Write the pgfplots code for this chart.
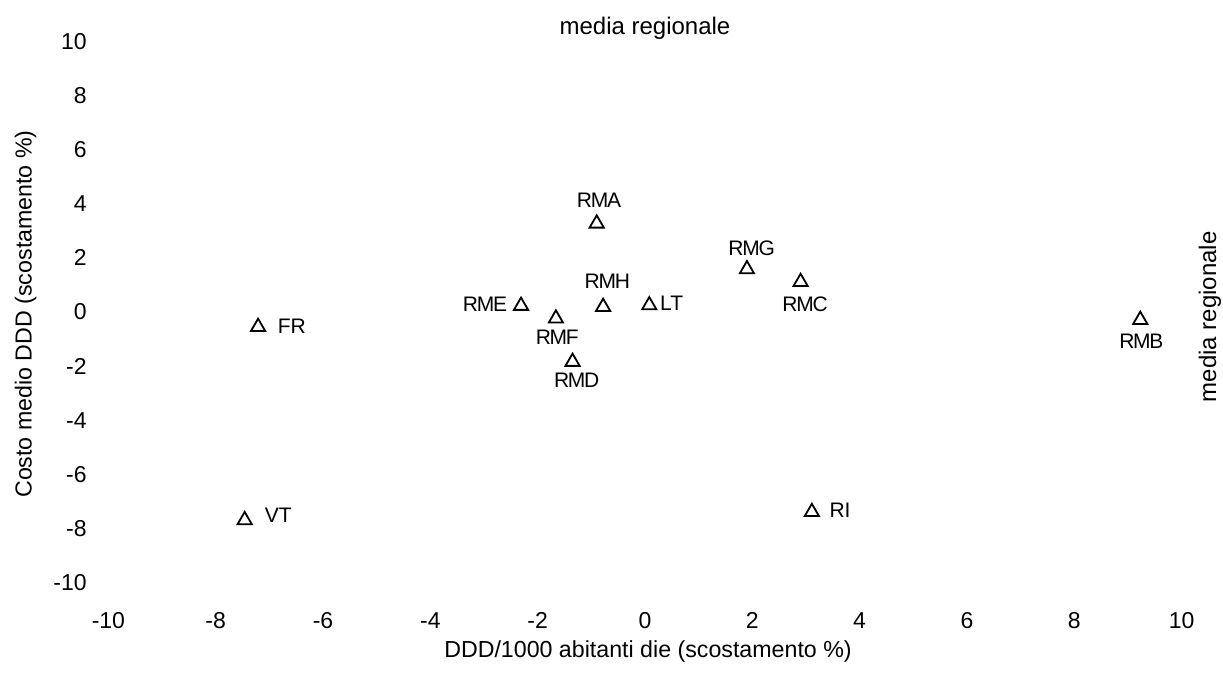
\documentclass[border=0pt]{standalone}
\usepackage{fontspec}
\setmainfont{Liberation Sans}
\newfontfamily\rmlab[LetterSpace=-6]{Liberation Sans}
\usepackage{pgfplots}
\pgfplotsset{compat=1.18}

\begin{document}
\begin{tikzpicture}
\useasboundingbox (-322.5pt,-184pt) rectangle (289pt,156pt);
\begin{axis}[
    at={(0pt,0pt)}, anchor=origin,
    x=26.83pt, y=13.53pt,
    xmin=-10, xmax=10, ymin=-10, ymax=10,
    clip=false,
    axis line style={draw=none},
    tick style={draw=none},
    major tick length=0pt,
    xtick={-10,-8,-6,-4,-2,0,2,4,6,8,10},
    xticklabels={-10,-8,-6,-4,-2,0,2,4,6,8,10},
    ytick={-10,-8,-6,-4,-2,0,2,4,6,8,10},
    yticklabels={-10,-8,-6,-4,-2,0,2,4,6,8,10},
    xticklabel style={font=\fontsize{11.5}{13}\selectfont, anchor=center, inner sep=0pt, yshift=-18.9pt},
    yticklabel style={font=\fontsize{11.5}{13}\selectfont, anchor=east, inner sep=0pt, xshift=-10.7pt},
]
% costo medio DDD vs DDD/1000 abitanti die
\addplot[only marks, mark=triangle, mark size=4.1pt, mark options={line width=0.9pt, draw=black, fill=none}] coordinates {
    (-0.90, 3.27)  % RMA
    (1.90, 1.58)   % RMG
    (2.90, 1.11)   % RMC
    (-0.78, 0.19)  % RMH
    (0.08, 0.25)   % LT
    (-2.31, 0.23)  % RME
    (-1.66, -0.24) % RMF
    (-1.35, -1.84) % RMD
    (-7.21, -0.55) % FR
    (-7.46, -7.69) % VT
    (3.11, -7.39)  % RI
    (9.23, -0.29)  % RMB
};
\tikzset{lab/.style={font=\fontsize{10.5}{12}\selectfont, inner sep=0pt, anchor=center}}
\node[lab] at (axis cs:-0.857,4.14) {\rmlab RMA};
\node[lab] at (axis cs:1.989,2.355) {\rmlab RMG};
\node[lab] at (axis cs:2.982,0.296) {\rmlab RMC};
\node[lab] at (axis cs:-0.703,1.12) {\rmlab RMH};
\node[lab] at (axis cs:0.498,0.32) {LT};
\node[lab] at (axis cs:-2.982,0.296) {\rmlab RME};
\node[lab] at (axis cs:-1.635,-0.935) {\rmlab RMF};
\node[lab] at (axis cs:-1.273,-2.514) {\rmlab RMD};
\node[lab] at (axis cs:-6.58,-0.518) {FR};
\node[lab] at (axis cs:-6.835,-7.53) {VT};
\node[lab] at (axis cs:3.635,-7.32) {RI};
\node[lab] at (axis cs:9.25,-1.098) {\rmlab RMB};
\end{axis}
\node[font=\fontsize{11.6}{13}\selectfont, anchor=base, inner sep=0pt] at (1.5pt,-172.65pt) {DDD/1000 abitanti die (scostamento \%)};
\node[font=\fontsize{11.6}{13}\selectfont, anchor=base, inner sep=0pt, rotate=90] at (-306.65pt,-1pt) {Costo medio DDD (scostamento \%)};
\node[font=\fontsize{12}{14}\selectfont, inner sep=0pt] at (0pt,141.85pt) {media regionale};
\node[font=\fontsize{12}{14}\selectfont, inner sep=0pt, rotate=90] at (282.5pt,-2.35pt) {media regionale};
\end{tikzpicture}
\end{document}
